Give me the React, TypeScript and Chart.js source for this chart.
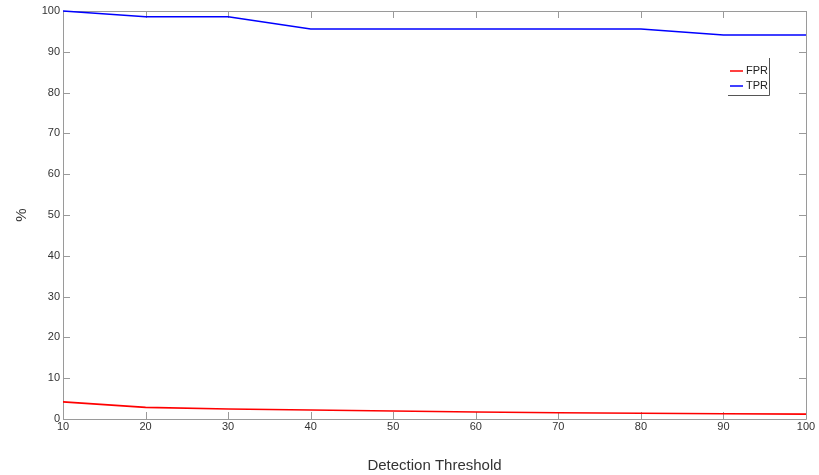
import React, { useEffect, useRef } from "react";
import { Chart, registerables } from "chart.js";

Chart.register(...registerables);

const thresholds = [10, 20, 30, 40, 50, 60, 70, 80, 90, 100];
const fprValues = [4.2, 2.85, 2.45, 2.2, 1.95, 1.7, 1.55, 1.4, 1.3, 1.2];
const tprValues = [100, 98.6, 98.6, 95.6, 95.6, 95.6, 95.6, 95.6, 94.1, 94.1];
const seriesLabels = ["FPR", "TPR"];
const seriesColors = ["#ff0000", "#0000ff"];
const xTitle = "Detection Threshold";
const yTitle = "%";

const FONT = "'Liberation Sans', Arial, sans-serif";
const FRAME = "#9a9a9a";

const framePlugin = {
  id: "frame",
  beforeDatasetsDraw(chart: any) {
    const { ctx, chartArea: a, scales } = chart;
    const tl = 7;
    ctx.save();
    ctx.strokeStyle = FRAME;
    ctx.lineWidth = 1;
    ctx.beginPath();
    ctx.rect(Math.round(a.left) + 0.5, Math.round(a.top) + 0.5, Math.round(a.right - a.left), Math.round(a.bottom - a.top));
    ctx.stroke();
    ctx.beginPath();
    scales.x.ticks.forEach((t: any) => {
      const x = Math.round(scales.x.getPixelForValue(t.value)) + 0.5;
      ctx.moveTo(x, a.bottom);
      ctx.lineTo(x, a.bottom - tl);
      ctx.moveTo(x, a.top);
      ctx.lineTo(x, a.top + tl);
    });
    scales.y.ticks.forEach((t: any) => {
      const y = Math.round(scales.y.getPixelForValue(t.value)) + 0.5;
      ctx.moveTo(a.left, y);
      ctx.lineTo(a.left + tl, y);
      ctx.moveTo(a.right, y);
      ctx.lineTo(a.right - tl, y);
    });
    ctx.stroke();
    ctx.restore();
  },
  afterDatasetsDraw(chart: any) {
    const { ctx, chartArea: a } = chart;
    ctx.save();
    // legend box
    const right = a.right - 37;
    const top = a.top + 47;
    const bottom = a.top + 84;
    const left = right - 41;
    ctx.strokeStyle = "#555";
    ctx.lineWidth = 1;
    ctx.beginPath();
    ctx.moveTo(right + 0.5, top);
    ctx.lineTo(right + 0.5, bottom + 0.5);
    ctx.lineTo(left, bottom + 0.5);
    ctx.stroke();
    ctx.font = `11px ${FONT}`;
    ctx.textBaseline = "middle";
    chart.data.datasets.forEach((ds: any, i: number) => {
      const y = a.top + 60 + i * 15;
      ctx.strokeStyle = ds.borderColor;
      ctx.lineWidth = 1.5;
      ctx.beginPath();
      ctx.moveTo(left + 2, y);
      ctx.lineTo(left + 15, y);
      ctx.stroke();
      ctx.fillStyle = "#222";
      ctx.fillText(ds.label, left + 18, y);
    });
    ctx.restore();
  },
};

export default function App() {
  const ref = useRef<HTMLCanvasElement>(null);
  useEffect(() => {
    const chart = new Chart(ref.current!, {
      type: "line",
      data: {
        labels: thresholds,
        datasets: seriesLabels.map((label, i) => ({
          label,
          data: (i === 0 ? fprValues : tprValues).map((v, j) => ({ x: thresholds[j], y: v })),
          borderColor: seriesColors[i],
          backgroundColor: seriesColors[i],
          borderWidth: 1.6,
          pointRadius: 0,
          tension: 0,
          clip: 4,
        })),
      },
      options: {
        animation: false,
        responsive: false,
        layout: { padding: { top: 11, right: 13, left: 0, bottom: 0 } },
        plugins: { legend: { display: false }, tooltip: { enabled: false } },
        scales: {
          x: {
            type: "linear",
            min: 10,
            max: 100,
            grid: { display: false, drawTicks: false, tickLength: 0 },
            border: { display: false },
            ticks: { stepSize: 10, color: "#333", font: { family: FONT, size: 11 }, padding: 1, maxRotation: 0 },
            title: { display: true, text: xTitle, color: "#333", font: { family: FONT, size: 15 }, padding: { top: 0, bottom: 0 } },
            afterFit: (s: any) => { s.height = 56; },
          },
          y: {
            min: 0,
            max: 100,
            grid: { display: false, drawTicks: false, tickLength: 0 },
            border: { display: false },
            ticks: { stepSize: 10, color: "#333", font: { family: FONT, size: 11 }, padding: 3 },
            title: { display: true, text: yTitle, color: "#333", font: { family: FONT, size: 15 }, padding: { top: 13, bottom: 0 } },
            afterFit: (s: any) => { s.width = 63; },
          },
        },
      },
      plugins: [framePlugin],
    });
    return () => chart.destroy();
  }, []);
  return (
    <div style={{ position: "fixed", left: 0, top: 0, width: 819, height: 475, background: "#fff" }}>
      <canvas ref={ref} width={819} height={475} style={{ width: 819, height: 475, display: "block" }} />
    </div>
  );
}
